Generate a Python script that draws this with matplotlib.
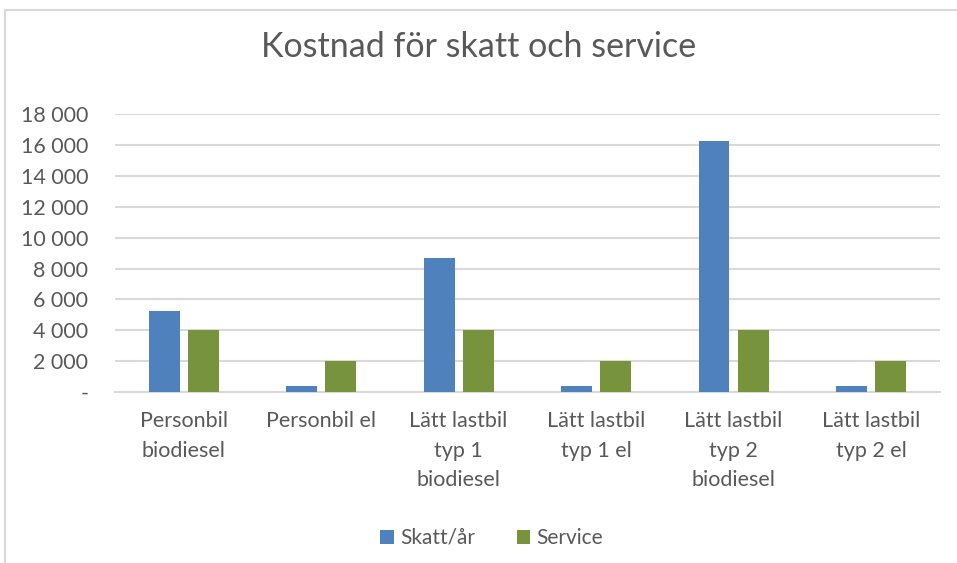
import matplotlib.pyplot as plt
from matplotlib.patches import Rectangle
import numpy as np

categories = ["Personbil\nbiodiesel", "Personbil el", "Lätt lastbil\ntyp 1\nbiodiesel",
              "Lätt lastbil\ntyp 1 el", "Lätt lastbil\ntyp 2\nbiodiesel", "Lätt lastbil\ntyp 2 el"]
skatt = [5250, 360, 8680, 360, 16270, 360]
service = [4000, 2000, 4000, 2000, 4000, 2000]
yticks = [0, 2000, 4000, 6000, 8000, 10000, 12000, 14000, 16000, 18000]

plt.rcParams['font.family'] = ['Lato', 'DejaVu Sans']
grey = '#595959'

fig = plt.figure(figsize=(9.57, 5.63), dpi=100)
ax = fig.add_axes([0.120, 0.3037, 0.862, 0.4933])

# outer chart frame (cropped at right and bottom)
fig.patches.append(Rectangle((5 / 957, -0.1), 1.2, 1 - 10 / 563 + 0.1, transform=fig.transFigure,
                             fill=False, edgecolor='#d9d9d9', linewidth=1.5))

x = np.arange(len(categories))
w = 0.225
ax.bar(x - 0.142, skatt, w, color='#4f81bd', label='Skatt/år', zorder=3)
ax.bar(x + 0.142, service, w, color='#77933c', label='Service', zorder=3)

ax.set_xlim(-0.5, len(categories) - 0.5)
ax.set_ylim(0, 18000)
ax.set_yticks(yticks)
ax.set_yticklabels(['-' if v == 0 else f"{v:,}".replace(',', ' ') for v in yticks])
ax.set_xticks(x)
ax.set_xticklabels(categories, linespacing=1.58)
ax.tick_params(axis='both', length=0, labelsize=15.5, labelcolor=grey)
ax.tick_params(axis='x', pad=14)
ax.tick_params(axis='y', pad=19)
for lbl in ax.get_yticklabels():
    lbl.set_horizontalalignment('right')

ax.grid(axis='y', color='#d9d9d9', linewidth=1.5, zorder=0)
for s in ['top', 'right', 'left']:
    ax.spines[s].set_visible(False)
ax.spines['bottom'].set_color('#d9d9d9')
ax.spines['bottom'].set_linewidth(1.5)

fig.text(0.5, 1 - 47 / 563, 'Kostnad för skatt och service', ha='center', va='center',
         fontsize=24.5, color=grey)

fig.legend(loc='center', bbox_to_anchor=(0.514, 1 - 538 / 563), ncol=2, frameon=False,
           fontsize=15, labelcolor=grey, handlelength=0.65, handleheight=0.65,
           handletextpad=0.3, columnspacing=2.0)

fig.savefig('out.png', dpi=100)
